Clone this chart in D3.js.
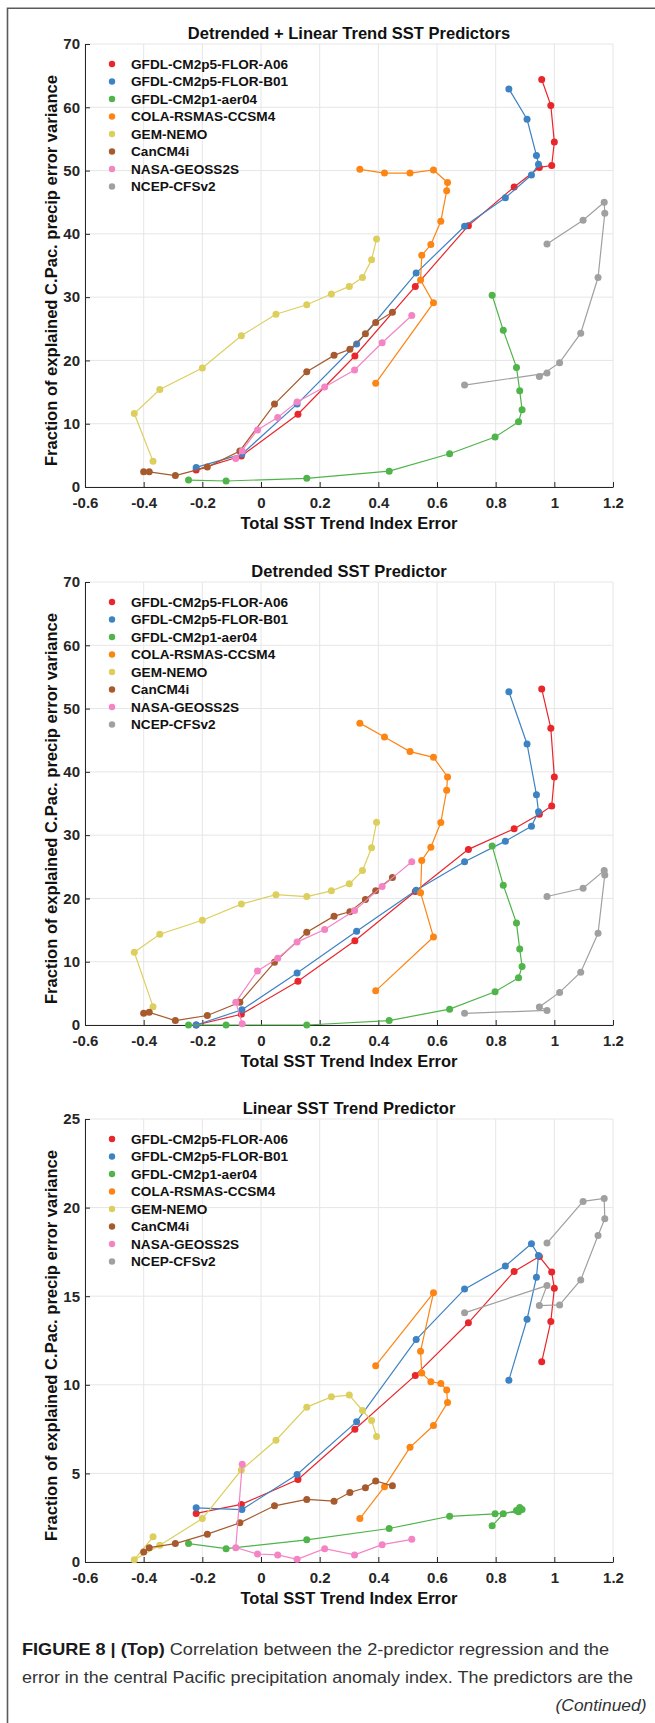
<!DOCTYPE html>
<html lang="en">
<head>
<meta charset="utf-8">
<title>Figure 8</title>
<script src="https://cdn.jsdelivr.net/npm/d3@7"></script>
<style>
  body { margin: 0; background: #fff; }
  text { font-family: "Liberation Sans", Arial, sans-serif; }
  .tick text { font-size: 15px; font-weight: bold; fill: #262626; }
  .axis path, .axis line { stroke: #262626; }
  .grid line { stroke: #e6e6e6; stroke-width: 1; }
  .ttl { font-size: 16.5px; font-weight: bold; fill: #111; }
  .leg { font-size: 13.6px; font-weight: bold; fill: #111; }
  .cap { font-size: 16.5px; fill: #333; }
</style>
</head>
<body>
<script>
// models and colours
var models = ["GFDL-CM2p5-FLOR-A06", "GFDL-CM2p5-FLOR-B01", "GFDL-CM2p1-aer04", "COLA-RSMAS-CCSM4",
              "GEM-NEMO", "CanCM4i", "NASA-GEOSS2S", "NCEP-CFSv2"];
var colors = ["#e8262b", "#3d82c3", "#4fb449", "#fd8514", "#dccf5e", "#a65a2e", "#f484c4", "#a0a0a0"];

// x values (total SST trend index error), same for every panel
var xErr = [
  [-0.221, -0.067, 0.126, 0.320, 0.526, 0.707, 0.863, 0.949, 0.991, 1.000, 0.988, 0.957],
  [-0.221, -0.065, 0.123, 0.326, 0.529, 0.694, 0.833, 0.922, 0.946, 0.939, 0.907, 0.845],
  [-0.247, -0.119, 0.156, 0.437, 0.643, 0.798, 0.878, 0.890, 0.882, 0.871, 0.826, 0.788],
  [0.337, 0.421, 0.508, 0.588, 0.636, 0.633, 0.613, 0.579, 0.548, 0.544, 0.588, 0.391],
  [0.394, 0.377, 0.346, 0.301, 0.240, 0.156, 0.051, -0.067, -0.200, -0.345, -0.432, -0.368],
  [-0.400, -0.381, -0.292, -0.183, -0.072, 0.046, 0.156, 0.249, 0.303, 0.356, 0.391, 0.448],
  [-0.064, -0.086, -0.012, 0.057, 0.123, 0.217, 0.319, 0.413, 0.514],
  [0.975, 1.098, 1.170, 1.172, 1.149, 1.090, 1.018, 0.949, 0.975, 0.694]
];

// y values: fraction of explained precip error variance
var yBoth = [
  [2.7, 4.9, 11.5, 20.7, 31.7, 41.3, 47.4, 50.5, 50.8, 54.5, 60.3, 64.4],
  [3.1, 5.2, 13.1, 22.6, 33.8, 41.2, 45.7, 49.3, 51.0, 52.4, 58.1, 62.9],
  [1.1, 0.95, 1.37, 2.5, 5.25, 7.9, 10.3, 12.2, 15.2, 18.9, 24.75, 30.3],
  [50.2, 49.6, 49.6, 50.1, 48.1, 46.8, 42.0, 38.3, 36.6, 32.7, 29.1, 16.4],
  [39.2, 35.9, 33.1, 31.7, 30.5, 28.8, 27.3, 23.9, 18.8, 15.4, 11.6, 4.05],
  [2.4, 2.4, 1.8, 3.15, 5.7, 13.1, 18.2, 20.8, 21.75, 24.2, 26.0, 27.6],
  [5.7, 4.5, 9.0, 11.0, 13.45, 15.8, 18.5, 22.8, 27.1],
  [38.4, 42.15, 45.0, 43.25, 33.1, 24.3, 19.65, 17.45, 18.0, 16.1]
];
var yDetr = [
  [0.0, 1.7, 6.9, 13.3, 21.1, 27.75, 31.0, 33.3, 34.6, 39.2, 46.9, 53.1],
  [0.0, 2.4, 8.2, 14.8, 21.3, 25.8, 29.05, 31.4, 33.7, 36.4, 44.4, 52.65],
  [0.0, 0.0, 0.0, 0.7, 2.5, 5.25, 7.45, 9.25, 12.0, 16.1, 22.1, 28.3],
  [47.7, 45.5, 43.2, 42.3, 39.2, 37.1, 32.0, 28.1, 26.0, 20.9, 13.9, 5.4],
  [32.05, 28.0, 24.4, 22.3, 21.2, 20.3, 20.6, 19.1, 16.55, 14.35, 11.5, 2.9],
  [1.85, 2.0, 0.7, 1.5, 3.6, 9.9, 14.65, 17.2, 17.9, 19.85, 21.2, 23.3],
  [0.2, 3.6, 8.55, 10.55, 13.1, 15.1, 18.1, 21.9, 25.8],
  [20.3, 21.6, 24.4, 23.7, 14.5, 8.35, 5.15, 2.85, 2.3, 1.85]
];
var yTrend = [
  [2.74, 3.25, 4.66, 7.49, 10.53, 13.5, 16.4, 17.24, 16.36, 15.45, 13.57, 11.3],
  [3.06, 2.96, 4.94, 7.92, 12.55, 15.4, 16.7, 17.96, 17.3, 16.07, 13.7, 10.26],
  [1.04, 0.75, 1.25, 1.89, 2.58, 2.72, 2.83, 2.96, 3.08, 2.9, 2.72, 2.04],
  [2.45, 4.25, 6.47, 7.7, 9.0, 9.7, 10.08, 10.17, 10.66, 11.9, 15.19, 11.08],
  [7.08, 7.98, 8.55, 9.42, 9.32, 8.74, 6.87, 5.19, 2.45, 0.94, 0.13, 1.42],
  [0.57, 0.81, 1.04, 1.57, 2.21, 3.17, 3.53, 3.43, 3.92, 4.19, 4.57, 4.30],
  [5.51, 0.81, 0.45, 0.40, 0.15, 0.75, 0.40, 0.98, 1.28],
  [18.0, 20.35, 20.52, 19.37, 18.43, 15.92, 14.51, 14.47, 15.6, 14.06]
];

var titles = ["Detrended + Linear Trend SST Predictors", "Detrended SST Predictor", "Linear SST Trend Predictor"];
var yMaxes = [70, 70, 25];
var yStepSizes = [10, 10, 5];
var xTicks = [-0.6, -0.4, -0.2, 0, 0.2, 0.4, 0.6, 0.8, 1, 1.2];
var xLabel = "Total SST Trend Index Error";
var yLabel = "Fraction of explained C.Pac. precip error variance";

var W = 655, H = 1723;
var left = 85, right = 613, plotH = 443;
var tops = [44, 582, 1119];

var svg = d3.select("body").append("svg")
    .attr("width", W)
    .attr("height", H);

svg.append("rect").attr("width", W).attr("height", H).attr("fill", "#fff");

// page frame (top + left)
svg.append("path")
    .attr("d", "M7.5," + H + "V8.3H" + W)
    .attr("fill", "none")
    .attr("stroke", "#5a5a5a")
    .attr("stroke-width", 1.6);

var xScale = d3.scaleLinear().domain([-0.6, 1.2]).range([left, right]);
var fmt = function (d) { return String(+d.toFixed(1)); };

var allY = [yBoth, yDetr, yTrend];

allY.forEach(function (ySet, p) {
    var top = tops[p];
    var yScale = d3.scaleLinear().domain([0, yMaxes[p]]).range([top + plotH, top]);
    var yTicks = d3.range(0, yMaxes[p] + 0.001, yStepSizes[p]);

    var g = svg.append("g");

    // grid
    var grid = g.append("g").attr("class", "grid");
    grid.selectAll("line.v").data(xTicks).enter().append("line")
        .attr("x1", xScale).attr("x2", xScale)
        .attr("y1", top).attr("y2", top + plotH);
    grid.selectAll("line.h").data(yTicks).enter().append("line")
        .attr("x1", left).attr("x2", right)
        .attr("y1", yScale).attr("y2", yScale);

    // axes, ticks inward like matlab
    g.append("g").attr("class", "axis")
        .attr("transform", "translate(0," + (top + plotH) + ")")
        .call(d3.axisBottom(xScale).tickValues(xTicks).tickFormat(fmt)
            .tickSizeInner(-5).tickSizeOuter(0).tickPadding(10));
    g.append("g").attr("class", "axis")
        .attr("transform", "translate(" + left + ",0)")
        .call(d3.axisLeft(yScale).tickValues(yTicks).tickFormat(fmt)
            .tickSizeInner(-5).tickSizeOuter(0).tickPadding(5));

    // titles
    g.append("text").attr("class", "ttl")
        .attr("x", (left + right) / 2).attr("y", top - 5.5)
        .attr("text-anchor", "middle")
        .text(titles[p]);
    g.append("text").attr("class", "ttl")
        .attr("x", (left + right) / 2).attr("y", top + plotH + 42)
        .attr("text-anchor", "middle")
        .text(xLabel);
    g.append("text").attr("class", "ttl")
        .attr("transform", "translate(57," + (top + plotH / 2 + 5) + ") rotate(-90)")
        .attr("text-anchor", "middle")
        .attr("textLength", 391).attr("lengthAdjust", "spacingAndGlyphs")
        .text(yLabel);

    // series
    var line = d3.line()
        .x(function (d) { return xScale(d[0]); })
        .y(function (d) { return yScale(d[1]); });

    models.forEach(function (m, i) {
        var pts = xErr[i].map(function (x, k) { return [x, ySet[i][k]]; });
        var s = g.append("g");
        s.append("path")
            .datum(pts)
            .attr("fill", "none")
            .attr("stroke", colors[i])
            .attr("stroke-width", 1.2)
            .attr("d", line);
        s.selectAll("circle").data(pts).enter().append("circle")
            .attr("cx", function (d) { return xScale(d[0]); })
            .attr("cy", function (d) { return yScale(d[1]); })
            .attr("r", 3.5)
            .attr("fill", colors[i]);
    });

    // legend
    var leg = g.append("g").attr("transform", "translate(112," + (top + 20) + ")");
    models.forEach(function (m, i) {
        leg.append("circle").attr("cx", 0).attr("cy", i * 17.5).attr("r", 3.2).attr("fill", colors[i]);
        leg.append("text").attr("class", "leg")
            .attr("x", 19).attr("y", i * 17.5 + 4.8)
            .text(m);
    });
});

// caption
var c1 = svg.append("text").attr("class", "cap")
    .attr("x", 22).attr("y", 1655)
    .attr("textLength", 587).attr("lengthAdjust", "spacingAndGlyphs");
c1.append("tspan").attr("font-weight", "bold").attr("fill", "#1a1a1a").text("FIGURE 8 | (Top)");
c1.append("tspan").text(" Correlation between the 2-predictor regression and the");

svg.append("text").attr("class", "cap")
    .attr("x", 22).attr("y", 1683)
    .attr("textLength", 611).attr("lengthAdjust", "spacingAndGlyphs")
    .text("error in the central Pacific precipitation anomaly index. The predictors are the");

svg.append("text").attr("class", "cap")
    .attr("x", 555.5).attr("y", 1710.5)
    .attr("font-style", "italic")
    .attr("textLength", 91).attr("lengthAdjust", "spacingAndGlyphs")
    .text("(Continued)");
</script>
</body>
</html>
